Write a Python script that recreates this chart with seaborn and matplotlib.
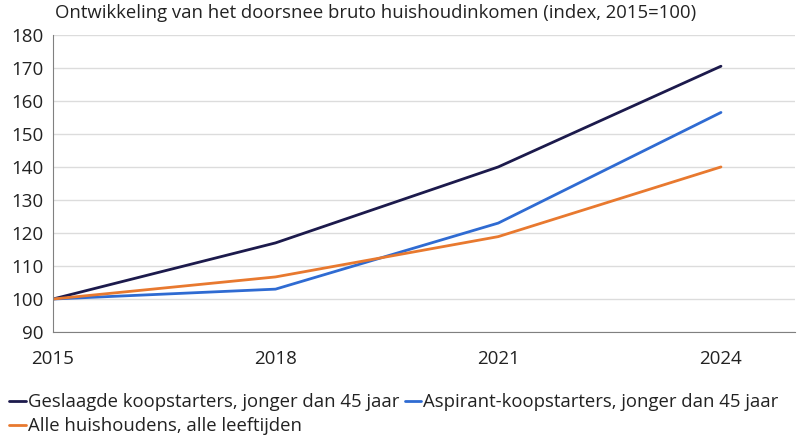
import pandas as pd
import matplotlib.pyplot as plt
import seaborn as sns

years = [2015, 2018, 2021, 2024]
geslaagd = [100, 117, 140, 170.5]
aspirant = [100, 103, 123, 156.5]
alle = [100, 106.7, 118.9, 140]

labels = ["Geslaagde koopstarters, jonger dan 45 jaar",
          "Aspirant-koopstarters, jonger dan 45 jaar",
          "Alle huishoudens, alle leeftijden"]
colors = ["#1c1a4c", "#2f6bd2", "#e8792f"]

data = pd.DataFrame({
    "jaar": years * 3,
    "index": geslaagd + aspirant + alle,
    "reeks": [labels[0]] * 4 + [labels[1]] * 4 + [labels[2]] * 4,
})

sns.set_style("white")
plt.rcParams['font.family'] = ['Open Sans', 'DejaVu Sans']

fig = plt.figure(figsize=(8, 4.41), dpi=100)
ax = fig.add_axes([0.066, 0.247, 0.928, 0.674])

sns.lineplot(data=data, x="jaar", y="index", hue="reeks", hue_order=labels,
             palette=colors, linewidth=2, ax=ax, legend=False)

ax.set_xlim(2015, 2025)
ax.set_ylim(90, 180)
ax.set_xticks(years)
ax.set_yticks(range(90, 181, 10))
ax.yaxis.grid(True, color="#dcdcdc", linewidth=1)
ax.set_axisbelow(True)
ax.set_xlabel("")
ax.set_ylabel("")
for s in ["top", "right"]:
    ax.spines[s].set_visible(False)
for s in ["left", "bottom"]:
    ax.spines[s].set_color("#808080")
ax.tick_params(axis="both", which="both", length=4, width=1, color="#808080",
               labelsize=13.5, labelcolor="#222222", direction="out")
ax.tick_params(axis="x", pad=9)
ax.tick_params(axis="y", pad=3)

fig.text(0.069, 0.99, "Ontwikkeling van het doorsnee bruto huishoudinkomen (index, 2015=100)",
         fontsize=13.3, color="#222222", va="top", ha="left")

handles = [plt.Line2D([], [], color=c, linewidth=2) for c in colors]
order = [0, 2, 1]
fig.legend([handles[i] for i in order], [labels[i] for i in order],
           loc="upper left", bbox_to_anchor=(-0.002, 0.133), ncol=2,
           frameon=False, fontsize=13.3, handlelength=0.9, handletextpad=0.1,
           columnspacing=0.3, labelspacing=0.32, borderpad=0.1,
           labelcolor="#222222")

fig.savefig("out.png", dpi=100)
